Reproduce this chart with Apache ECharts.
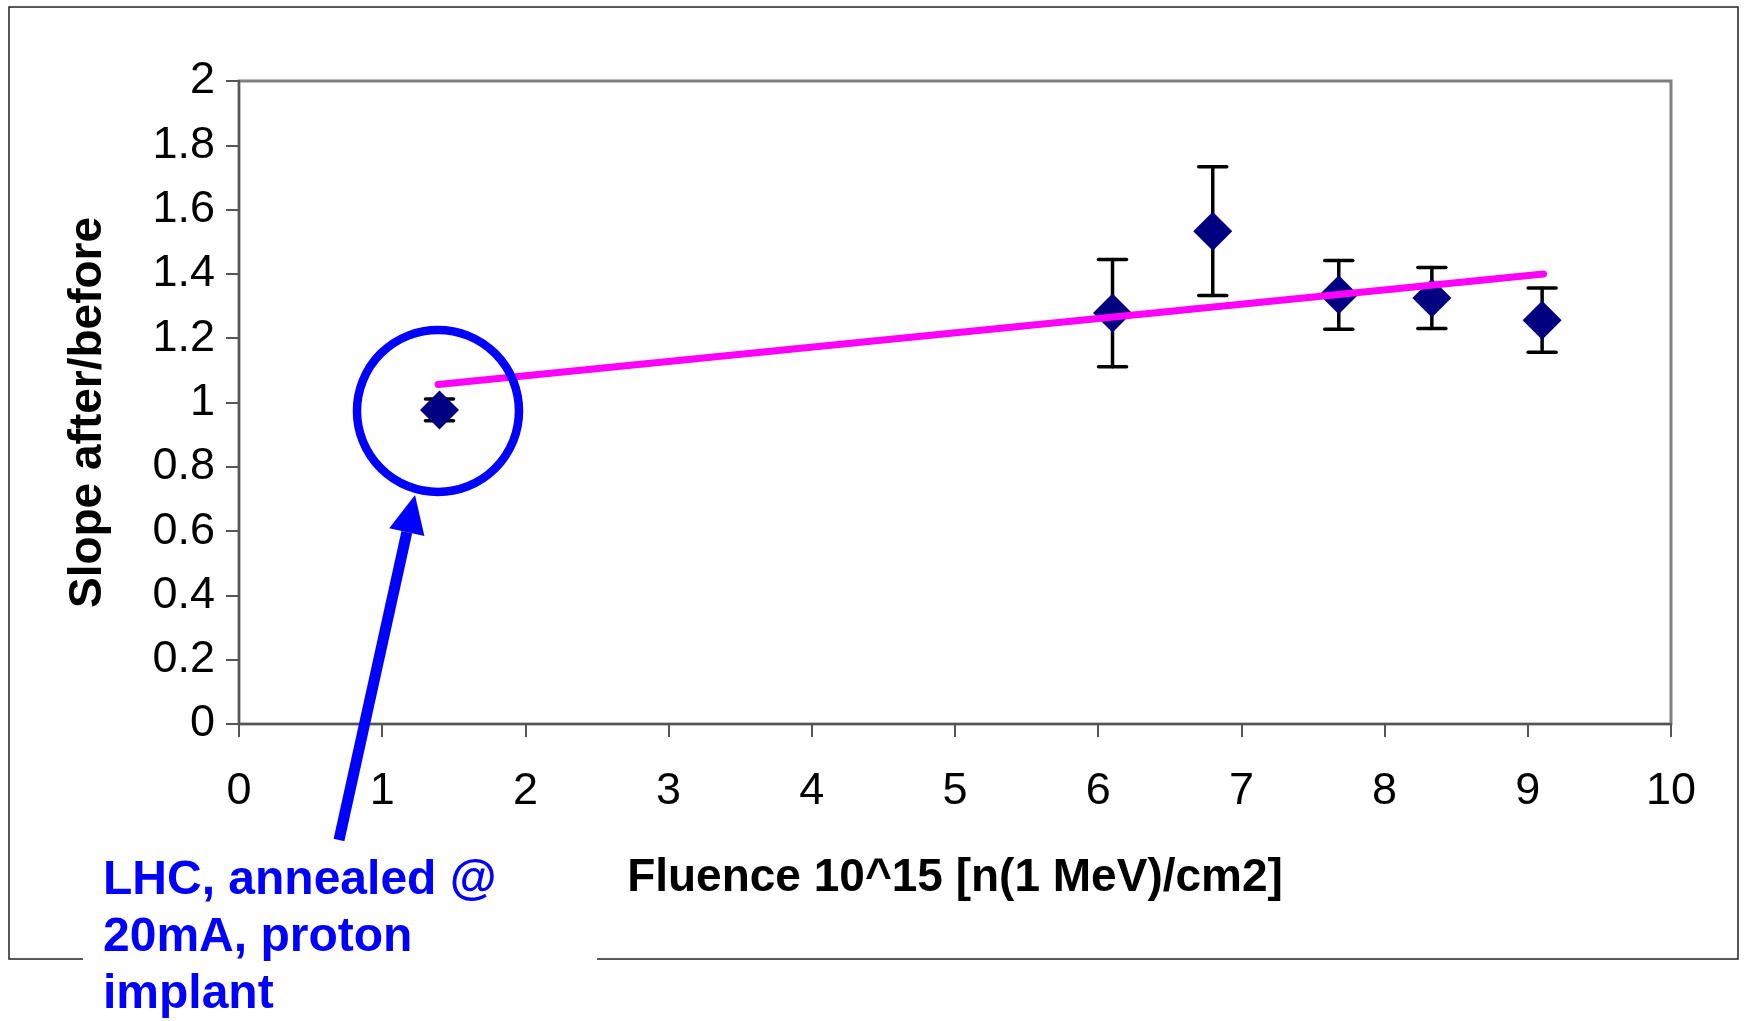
<!DOCTYPE html>
<html>
<head>
<meta charset="utf-8">
<script src="https://cdn.jsdelivr.net/npm/echarts@6/dist/echarts.min.js"></script>
<style>html,body{margin:0;padding:0;background:#fff;}#c{width:1744px;height:1021px;}</style>
</head>
<body>
<div id="c"></div>
<script>
// ---- data ----
var fluence = [1.4, 6.1, 6.8, 7.68, 8.33, 9.1];
var slope   = [0.977, 1.278, 1.533, 1.335, 1.325, 1.256];
var slopeErr = [0.034, 0.167, 0.2, 0.107, 0.095, 0.1];
var trendX = [1.39, 9.11];
var trendY = [1.056, 1.400];
var xTicks = ['0','1','2','3','4','5','6','7','8','9','10'];
var yTicks = ['0','0.2','0.4','0.6','0.8','1','1.2','1.4','1.6','1.8','2'];
var xTitle = 'Fluence 10^15 [n(1 MeV)/cm2]';
var yTitle = 'Slope after/before';
var noteLines = ['LHC, annealed @', '20mA, proton', 'implant'];

var FONT = "'Liberation Sans', Arial, sans-serif";
var chart = echarts.init(document.getElementById('c'), null, {renderer: 'canvas'});

var pts = fluence.map(function (x, i) { return [x, slope[i]]; });
var errs = fluence.map(function (x, i) { return [x, slope[i], slopeErr[i]]; });
var trend = trendX.map(function (x, i) { return [x, trendY[i]]; });

var option = {
  animation: false,
  backgroundColor: '#fff',
  grid: {left: 239, top: 81, right: 73, bottom: 297, show: true, borderColor: '#808080', borderWidth: 3, backgroundColor: 'transparent'},
  xAxis: {
    type: 'value', min: 0, max: 10, interval: 1,
    name: xTitle, nameLocation: 'middle', nameGap: 131,
    nameTextStyle: {fontFamily: FONT, fontWeight: 'bold', fontSize: 46, color: '#000'},
    axisLine: {show: true, onZero: false, lineStyle: {color: '#555', width: 2}},
    axisTick: {show: true, inside: false, length: 13, lineStyle: {color: '#555', width: 2}},
    axisLabel: {fontFamily: FONT, fontSize: 45, color: '#000', margin: 45,
      formatter: function (v) { return xTicks[Math.round(v)]; }},
    splitLine: {show: false}
  },
  yAxis: {
    type: 'value', min: 0, max: 2, interval: 0.2,
    name: yTitle, nameLocation: 'middle', nameGap: 128, nameRotate: 90,
    nameTextStyle: {fontFamily: FONT, fontWeight: 'bold', fontSize: 46, color: '#000', padding: [0, 20, 0, 0]},
    axisLine: {show: true, onZero: false, lineStyle: {color: '#555', width: 2}},
    axisTick: {show: true, inside: false, length: 13, lineStyle: {color: '#555', width: 2}},
    axisLabel: {fontFamily: FONT, fontSize: 45, color: '#000', margin: 24,
      formatter: function (v) { return yTicks[Math.round(v * 5)]; }},
    splitLine: {show: false}
  },
  series: [
    {
      type: 'custom', name: 'err', z: 2,
      data: errs,
      renderItem: function (params, api) {
        var x = api.value(0), y = api.value(1), e = api.value(2);
        var top = api.coord([x, y + e]);
        var bot = api.coord([x, y - e]);
        var hw = 14;
        var st = {stroke: '#000', lineWidth: 3.5, lineCap: 'round'};
        return {type: 'group', children: [
          {type: 'line', shape: {x1: top[0], y1: top[1], x2: bot[0], y2: bot[1]}, style: st},
          {type: 'line', shape: {x1: top[0] - hw, y1: top[1], x2: top[0] + hw, y2: top[1]}, style: st},
          {type: 'line', shape: {x1: bot[0] - hw, y1: bot[1], x2: bot[0] + hw, y2: bot[1]}, style: st}
        ]};
      }
    },
    {
      type: 'scatter', name: 'slope', z: 3,
      data: pts, symbol: 'diamond', symbolSize: 39,
      itemStyle: {color: '#000080', opacity: 1}
    },
    {
      type: 'line', name: 'trend', z: 4,
      data: trend, showSymbol: false, symbol: 'none',
      lineStyle: {color: '#FF00FF', width: 7, cap: 'round'}
    }
  ]
};
chart.setOption(option);

// annotation (circle anchored on the first data point, arrow, note, frame)
var c0 = chart.convertToPixel({gridIndex: 0}, [fluence[0], slope[0]]);
var tip = [415, 495], tail = [339, 840];
var dx = tip[0] - tail[0], dy = tip[1] - tail[1];
var L = Math.sqrt(dx * dx + dy * dy);
var ux = dx / L, uy = dy / L, nx = -uy, ny = ux;
var hl = 38, hw = 18;
var bx = tip[0] - hl * ux, by = tip[1] - hl * uy;

chart.setOption({
  graphic: [
    {type: 'polyline', z: 100, shape: {points: [[83, 959], [9, 959], [9, 7], [1738, 7], [1738, 959], [597, 959]]},
      style: {stroke: '#222', lineWidth: 1.5, fill: null}},
    {type: 'circle', z: 101, shape: {cx: c0[0] - 1.5, cy: c0[1] + 1, r: 81},
      style: {stroke: '#0000FF', lineWidth: 8.5, fill: null}},
    {type: 'line', z: 101, shape: {x1: tail[0], y1: tail[1], x2: bx, y2: by},
      style: {stroke: '#0000FF', lineWidth: 11}},
    {type: 'polygon', z: 101, shape: {points: [tip, [bx + hw * nx, by + hw * ny], [bx - hw * nx, by - hw * ny]]},
      style: {fill: '#0000FF'}},
    {type: 'text', z: 102, x: 103, y: 852,
      style: {text: noteLines.join('\n'), fill: '#0000FF', fontFamily: FONT, fontWeight: 'bold', fontSize: 48,
        lineHeight: 57, verticalAlign: 'top', align: 'left'}}
  ]
});
</script>
</body>
</html>
